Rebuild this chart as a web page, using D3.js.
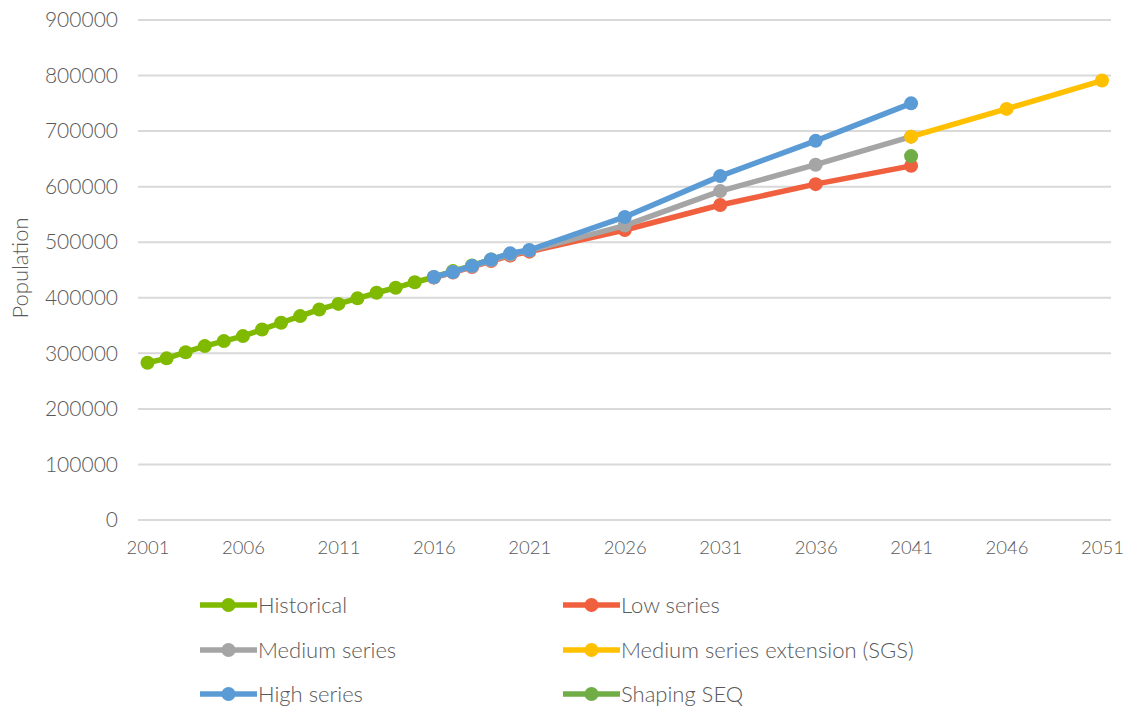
<!DOCTYPE html>
<html>
<head>
<meta charset="utf-8">
<script src="https://cdn.jsdelivr.net/npm/d3@7"></script>
<style>
  html, body { margin: 0; padding: 0; background: #fff; }
  svg { display: block; font-family: Lato, "Open Sans", sans-serif; font-weight: 300; }
</style>
</head>
<body>
<svg id="chart" width="1135" height="706"></svg>
<script>
// Population estimates and projections
const historicalYears = [2001,2002,2003,2004,2005,2006,2007,2008,2009,2010,2011,2012,2013,2014,2015,2016,2017,2018,2019,2020];
const historicalValues = [283000,291000,302000,313000,322000,331000,343000,355000,367000,379000,389000,399000,409000,418000,428000,437000,448000,458000,469000,479000];

const projectionYears = [2016,2017,2018,2019,2020,2021,2026,2031,2036,2041];
const lowValues    = [436500,445500,455500,466000,476000,483000,522000,567000,604500,637500];
const mediumValues = [437000,446000,456500,467500,478000,485000,530000,592000,639500,690000];
const highValues   = [437500,446500,457500,469000,480000,486000,545500,619000,682500,750000];

const extensionYears  = [2041,2046,2051];
const extensionValues = [690000,740000,791000];

const shapingYears  = [2041];
const shapingValues = [655000];

const xTicks = [2001,2006,2011,2016,2021,2026,2031,2036,2041,2046,2051];
const yTicks = [0,100000,200000,300000,400000,500000,600000,700000,800000,900000];

const series = [
  { name: "Historical", color: "#7fba00", years: historicalYears, values: historicalValues },
  { name: "Low series", color: "#f05f3e", years: projectionYears, values: lowValues },
  { name: "Medium series", color: "#a5a5a5", years: projectionYears, values: mediumValues },
  { name: "Medium series extension (SGS)", color: "#ffc000", years: extensionYears, values: extensionValues },
  { name: "High series", color: "#5b9bd5", years: projectionYears, values: highValues },
  { name: "Shaping SEQ", color: "#70ad47", years: shapingYears, values: shapingValues }
];

const textColor = "#595959";
const markerR = 7;
const lineW = 5.5;
const svg = d3.select("#chart");

const x = d3.scaleLinear().domain([2001, 2051]).range([147.5, 1102]);
const y = d3.scaleLinear().domain([0, 900000]).range([520, 20]);

// Horizontal gridlines
svg.append("g")
  .selectAll("line")
  .data(yTicks)
  .join("line")
  .attr("x1", 138).attr("x2", 1111)
  .attr("y1", d => y(d)).attr("y2", d => y(d))
  .attr("stroke", "#d9d9d9")
  .attr("stroke-width", 2);

// Y axis labels
const yAxis = svg.append("g")
  .attr("transform", "translate(138,0)")
  .call(d3.axisLeft(y).tickValues(yTicks).tickFormat(d3.format("d")).tickSize(0).tickPadding(20));
yAxis.select(".domain").remove();
yAxis.selectAll("text")
  .attr("fill", textColor)
  .style("font-size", "21px")
  .style("font-family", "Lato, sans-serif")
  .style("font-weight", 300);

// X axis labels
const xAxis = svg.append("g")
  .attr("transform", "translate(0,520)")
  .call(d3.axisBottom(x).tickValues(xTicks).tickFormat(d3.format("d")).tickSize(0).tickPadding(21));
xAxis.select(".domain").remove();
xAxis.selectAll("text")
  .attr("fill", textColor)
  .style("font-size", "18.5px")
  .style("font-family", "Lato, sans-serif")
  .style("font-weight", 300);

// Y axis title
svg.append("text")
  .attr("transform", "translate(28,268) rotate(-90)")
  .attr("text-anchor", "middle")
  .attr("fill", textColor)
  .style("font-size", "22px")
  .text("Population");

// Series lines and markers
const line = d3.line().x(d => x(d[0])).y(d => y(d[1]));
series.forEach(s => {
  const pts = s.years.map((yr, i) => [yr, s.values[i]]);
  const g = svg.append("g");
  if (pts.length > 1) {
    g.append("path")
      .datum(pts)
      .attr("d", line)
      .attr("fill", "none")
      .attr("stroke", s.color)
      .attr("stroke-width", lineW)
      .attr("stroke-linejoin", "round");
  }
  g.selectAll("circle")
    .data(pts)
    .join("circle")
    .attr("cx", d => x(d[0]))
    .attr("cy", d => y(d[1]))
    .attr("r", markerR)
    .attr("fill", s.color);
});

// Legend (two columns, three rows)
const legendCols = [200, 563];
const legendRows = [605, 650, 694];
const legend = svg.append("g");
series.forEach((s, i) => {
  const lx = legendCols[i % 2];
  const ly = legendRows[Math.floor(i / 2)];
  const g = legend.append("g").attr("transform", `translate(${lx},${ly})`);
  g.append("line")
    .attr("x1", 0).attr("x2", 57)
    .attr("y1", 0).attr("y2", 0)
    .attr("stroke", s.color)
    .attr("stroke-width", lineW);
  g.append("circle")
    .attr("cx", 28.5).attr("cy", 0).attr("r", markerR)
    .attr("fill", s.color);
  g.append("text")
    .attr("x", 58).attr("y", 0)
    .attr("dy", "0.35em")
    .attr("fill", textColor)
    .style("font-size", "22px")
    .text(s.name);
});
</script>
</body>
</html>
